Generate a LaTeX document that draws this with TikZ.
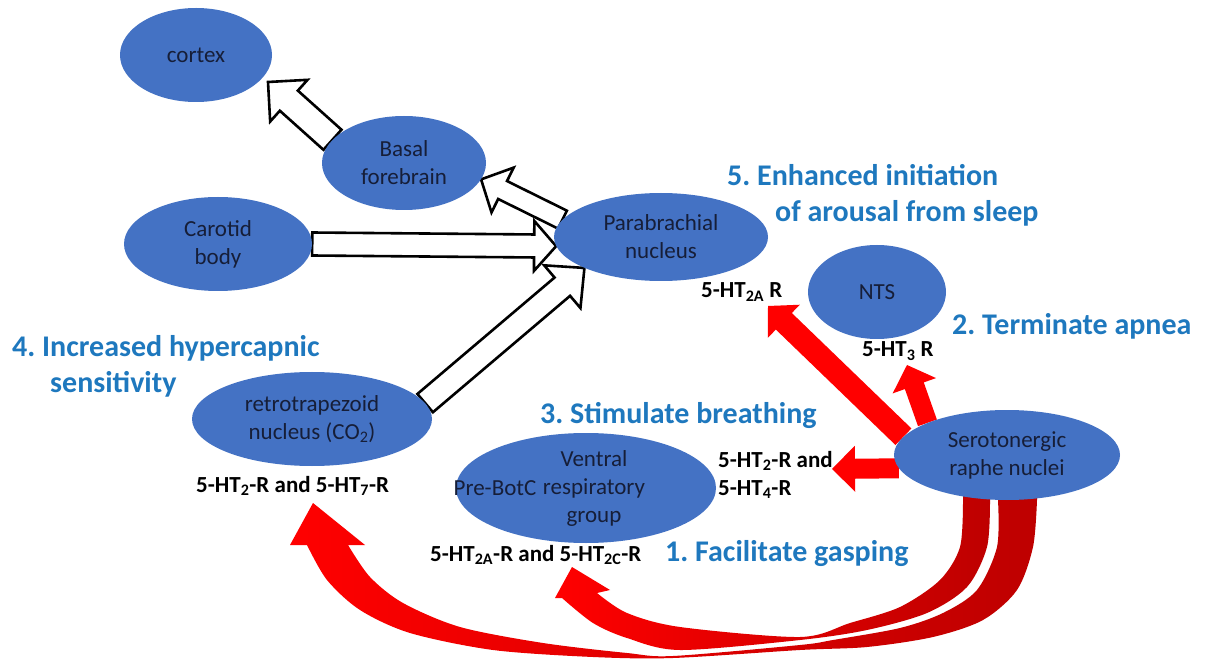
\documentclass[tikz,border=0pt]{standalone}
\usepackage{fontspec}
\setmainfont{Carlito}
\usetikzlibrary{shapes,arrows}
\usetikzlibrary{positioning}
\usetikzlibrary{calc}
\usetikzlibrary{backgrounds}
\frenchspacing

\definecolor{ellblue}{RGB}{68,114,196}
\definecolor{nodeink}{RGB}{22,30,56}
\definecolor{fxblue}{RGB}{30,120,190}
\definecolor{darkred}{RGB}{190,0,0}

\tikzset{
  region/.style={ellipse, fill=ellblue, text=nodeink, align=center, inner sep=0pt,
    font=\fontsize{23}{28}\selectfont},
  nodetext/.style={text=nodeink, inner sep=0pt, font=\fontsize{23}{28}\selectfont},
  effect/.style={text=fxblue, align=left, inner sep=0pt, anchor=base west,
    font=\bfseries\fontsize{30}{36}\selectfont},
  receptor/.style={text=black, align=left, inner sep=0pt, anchor=base west,
    font=\bfseries\fontsize{23}{28}\selectfont},
  hollow/.style={draw=black, fill=white, line width=2.6pt, line join=miter},
  redarrow/.style={fill=red},
  ribbon/.style={left color=red, right color=darkred}
}

% block arrow: style, from, to, half shaft, half head, head length
\newcommand{\fatarrow}[6]{%
  \coordinate (fah) at ($(#3)!#6!(#2)$);
  \path[#1] ($(#2)!#4!-90:(#3)$) -- ($(fah)!#4!90:(#2)$) -- ($(fah)!#5!90:(#2)$)
    -- (#3) -- ($(fah)!#5!-90:(#2)$) -- ($(fah)!#4!-90:(#2)$)
    -- ($(#2)!#4!90:(#3)$) -- cycle;}

\begin{document}
\begin{tikzpicture}[x=1pt,y=-1pt]
 \useasboundingbox (0,0) rectangle (1216,660);

 % brain regions
 \node[region, minimum width=152pt, minimum height=94pt] (cortex) at (196,55) {cortex};
 \node[region, minimum width=164pt, minimum height=94pt] (basal) at (404,163) {Basal\\forebrain};
 \node[region, minimum width=188pt, minimum height=94pt] (carotid) at (218,244) {Carotid\\body};
 \node[region, minimum width=214pt, minimum height=88pt] (pb) at (661,237) {Parabrachial\\nucleus};
 \node[region, minimum width=138pt, minimum height=94pt] (nts) at (877,292) {NTS};
 \node[region, minimum width=226pt, minimum height=90pt] (sero) at (1007,455) {Serotonergic\\raphe nuclei};
 \node[region, minimum width=240pt, minimum height=94pt] (rtn) at (312,419) {retrotrapezoid\\nucleus (CO\textsubscript{2})};
 \node[region, minimum width=260pt, minimum height=110pt] (vrg) at (586,488)
   {\hspace*{16pt}Ventral\\\hspace*{16pt}respiratory\\\hspace*{16pt}group};
 \node[nodetext] (prebotc) at (495,488) {Pre-BotC};

 % free ends
 \coordinate (toctx) at (268,82);
 \coordinate (tip-pb) at (768,306);
 \coordinate (tip-nts) at (907,365);
 \coordinate (tip-vrg) at (832,469);
 \coordinate (tip-rtn) at (313,503);
 \coordinate (tip-gasp) at (572,567);

 \begin{scope}[on background layer]
  \fill[white] (0,0) rectangle (1216,660);
  \fatarrow{hollow}{basal.162}{toctx}{13.5pt}{28pt}{28pt}
  \fatarrow{hollow}{pb.170}{basal.-12}{10pt}{25pt}{24pt}
  \fatarrow{hollow}{carotid.east}{pb.185}{11.5pt}{25pt}{22pt}
  \fatarrow{hollow}{rtn.8}{pb.202}{12pt}{28pt}{29pt}

  \fatarrow{redarrow}{sero.170}{tip-pb}{11.5pt}{23pt}{22pt}
  \fatarrow{redarrow}{sero.158}{tip-nts}{10pt}{23pt}{22pt}
  \fatarrow{redarrow}{sero.187}{tip-vrg}{10pt}{23pt}{23pt}

  % curved arrows from the raphe
  \shade[ribbon] (1037,488) -- plot[smooth] coordinates {(1037,500) (1033,547) (1017,590)
    (983,620) (933,637) (867,647) (800,650) (673,658) (593,657) (493,650) (410,633)
    (360,610) (327,580) (307,545)} -- (290,545) -- (tip-rtn) -- (365,545)
    -- plot[smooth] coordinates {(348,545) (370,577) (403,603) (460,627) (543,643)
    (627,653) (673,656) (800,645) (833,640) (900,628) (943,613) (977,590) (997,547)
    (998,500)} -- (998,488) -- cycle;
  \shade[ribbon] (990,488) -- plot[smooth] coordinates {(990,500) (987,547) (967,587)
    (927,613) (867,630) (800,640) (680,650) (627,638) (593,623) (562,598)}
    -- (555,598) -- (tip-gasp) -- (610,590)
    -- plot[smooth] coordinates {(597,593) (627,613) (680,627) (800,637) (850,623)
    (900,607) (940,580) (960,547) (963,500)} -- (963,488) -- cycle;
 \end{scope}

 % receptors
 \node[receptor] (r-pb) at (701,298) {5-HT\textsubscript{2A} R};
 \node[receptor] (r-nts) at (862,357) {5-HT\textsubscript{3} R};
 \node[receptor] (r-vrg) at (718,495) {5-HT\textsubscript{2}-R and\\5-HT\textsubscript{4}-R};
 \node[receptor] (r-rtn) at (196,492) {5-HT\textsubscript{2}-R and 5-HT\textsubscript{7}-R};
 \node[receptor] (r-gasp) at (430,561) {5-HT\textsubscript{2A}-R and 5-HT\textsubscript{2C}-R};

 % effects
 \node[effect] (fx5) at (727,222) {5. Enhanced initiation\\\hspace*{48pt}of arousal from sleep};
 \node[effect] (fx2) at (952,335) {2. Terminate apnea};
 \node[effect] (fx4) at (12,392) {4. Increased hypercapnic\\\hspace*{38pt}sensitivity};
 \node[effect] (fx3) at (540,423) {3. Stimulate breathing};
 \node[effect] (fx1) at (665,561) {1. Facilitate gasping};
\end{tikzpicture}
\end{document}
